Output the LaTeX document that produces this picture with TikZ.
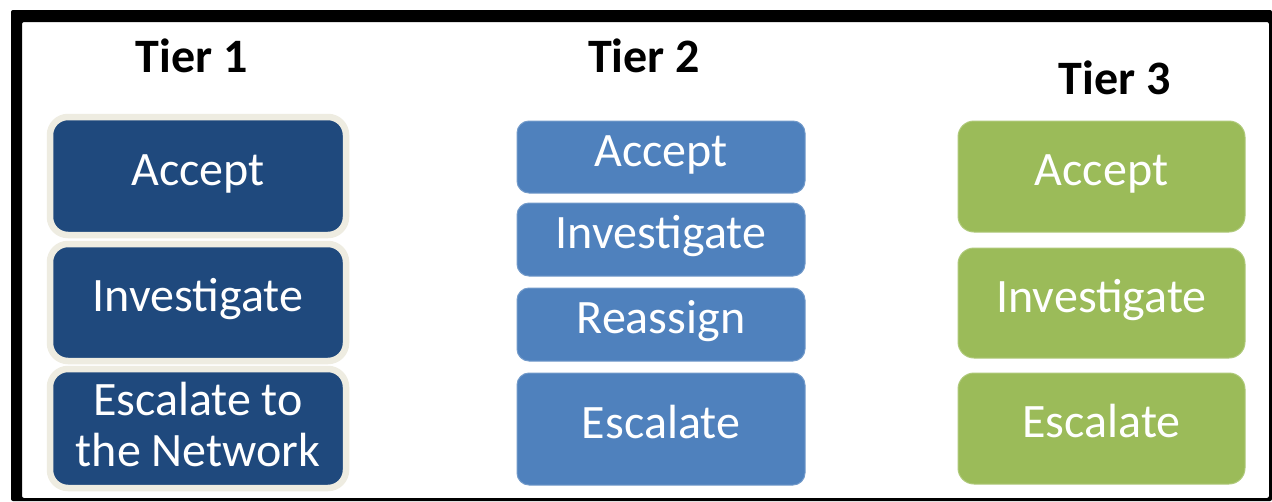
\documentclass[tikz,border=0pt]{standalone}
\usepackage{fontspec}
\setmainfont{Carlito}
\definecolor{tdark}{HTML}{1F497D}
\definecolor{tcream}{HTML}{EEECE1}
\definecolor{tblue}{HTML}{4F81BD}
\definecolor{tgreen}{HTML}{9BBB59}
\tikzset{
  boxfont/.style={font=\fontsize{48}{51}\selectfont},
  boxtext/.style={text=white, boxfont, text height=30pt, text depth=12pt, inner sep=0pt, align=center},
  tieronebox/.style={boxtext, fill=tdark, draw=tcream, line width=6.5pt, rounded corners=18pt, minimum width=296pt},
  tiertwobox/.style={boxtext, fill=tblue, draw=white!20!tblue, line width=1pt, rounded corners=12pt, minimum width=288pt},
  tierthreebox/.style={boxtext, fill=tgreen, draw=white!20!tgreen, line width=1pt, rounded corners=16pt, minimum width=287pt},
  tierlabel/.style={font=\fontsize{48}{51}\selectfont\bfseries, anchor=base, inner sep=0pt}
}
\begin{document}
\begin{tikzpicture}[x=1pt,y=-1pt]
\useasboundingbox (0,0) rectangle (1272,501);
\fill[white] (0,0) rectangle (1272,501);
% frame
\fill[black, even odd rule, rounded corners=2pt] (11,10) rectangle (1272,501) (22,22) rectangle (1269,498);

% tier labels
\node[tierlabel] (t1) at (191.5,72) {Tier 1};
\node[tierlabel] (t2) at (644,72) {Tier 2};
\node[tierlabel] (t3) at (1114.5,94) {Tier 3};

% tier 1
\node[tieronebox, minimum height=118pt] (a1) at (198,176) {Accept};
\node[tieronebox, minimum height=117pt] (i1) at (198,302.5) {Investigate};
\node[tieronebox, minimum height=119pt] (e1) at (198,428.5) {};
\node[text=white, boxfont, align=center, inner sep=0pt] (e1t) at ([yshift=4pt]e1.center) {Escalate to\\the Network};

% tier 2
\node[tiertwobox, minimum height=72pt] (a2) at (661,157) {Accept};
\node[tiertwobox, minimum height=73pt] (i2) at (661,239.5) {Investigate};
\node[tiertwobox, minimum height=73pt] (r2) at (661,324.5) {Reassign};
\node[tiertwobox, minimum height=112pt] (e2) at (661,429) {Escalate};

% tier 3
\node[tierthreebox, minimum height=111pt] (a3) at (1101.5,176.5) {Accept};
\node[tierthreebox, minimum height=110pt] (i3) at (1101.5,303) {Investigate};
\node[tierthreebox, minimum height=111pt] (e3) at (1101.5,428.5) {Escalate};
\end{tikzpicture}
\end{document}
